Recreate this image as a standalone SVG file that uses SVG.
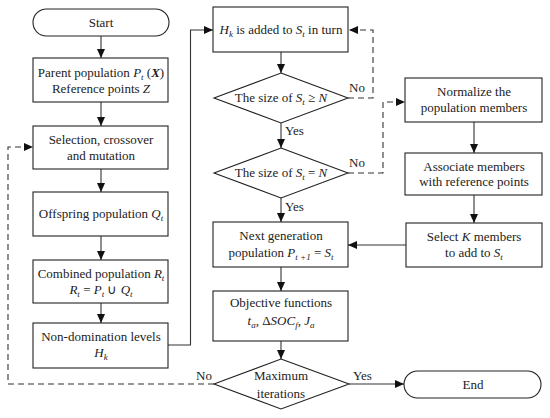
<svg xmlns="http://www.w3.org/2000/svg" width="550" height="418" viewBox="0 0 550 418">
<defs>
<style>
.n{fill:#fff;stroke:#222;stroke-width:1.1}
text{font-size:13px;fill:#222;text-anchor:middle}
.i{font-style:italic}
.s{font-size:9px;font-style:italic}
.c{fill:none;stroke:#333;stroke-width:1.1}
.d{fill:none;stroke:#333;stroke-width:1.1;stroke-dasharray:6,4}
.l{text-anchor:start}
</style>
<marker id="a" markerWidth="10" markerHeight="8" refX="9" refY="4" orient="auto" markerUnits="userSpaceOnUse">
<path d="M0,0 L9,4 L0,8 Z" fill="#111"/>
</marker>
</defs>
<rect width="550" height="418" fill="#fff"/>
<g id="connectors">
<path class="c" d="M101,36 V58" marker-end="url(#a)"/>
<path class="c" d="M101,102 V126" marker-end="url(#a)"/>
<path class="c" d="M101,169 V192" marker-end="url(#a)"/>
<path class="c" d="M101,236 V260" marker-end="url(#a)"/>
<path class="c" d="M101,303 V323" marker-end="url(#a)"/>
<path class="c" d="M168,345 H190.5 V30 H213" marker-end="url(#a)"/>
<path class="c" d="M281,52 V73" marker-end="url(#a)"/>
<path class="c" d="M281,123 V148" marker-end="url(#a)"/>
<path class="c" d="M281,198 V222" marker-end="url(#a)"/>
<path class="c" d="M281,267 V291" marker-end="url(#a)"/>
<path class="c" d="M281,341 V359" marker-end="url(#a)"/>
<path class="c" d="M349,384 H404" marker-end="url(#a)"/>
<path class="c" d="M474,122 V153" marker-end="url(#a)"/>
<path class="c" d="M474,195 V223" marker-end="url(#a)"/>
<path class="c" d="M406,245 H348" marker-end="url(#a)"/>
<path class="d" d="M348,98 H373 V30 H349" marker-end="url(#a)"/>
<path class="d" d="M348,173 H383 V102 H405" marker-end="url(#a)"/>
<path class="d" d="M214,384 H8 V147 H33" marker-end="url(#a)"/>
</g>
<g font-family="Liberation Serif, serif">
<g id="start"><rect class="n" x="33" y="9" width="136" height="27" rx="13.5"/><text x="101" y="27">Start</text></g>
<g id="parent"><rect class="n" x="33" y="58" width="135" height="44"/>
<text x="101" y="77">Parent population <tspan class="i">P</tspan><tspan class="s" dy="3">t</tspan><tspan dy="-3"> (</tspan><tspan class="i" font-weight="bold">X</tspan>)</text>
<text x="101" y="93">Reference points <tspan class="i">Z</tspan></text></g>
<g id="selection"><rect class="n" x="33" y="126" width="135" height="43"/>
<text x="101" y="144">Selection, crossover</text><text x="101" y="160">and mutation</text></g>
<g id="offspring"><rect class="n" x="33" y="192" width="135" height="44"/>
<text x="101" y="218">Offspring population <tspan class="i">Q</tspan><tspan class="s" dy="3">t</tspan></text></g>
<g id="combined"><rect class="n" x="33" y="260" width="135" height="43"/>
<text x="101" y="278">Combined population <tspan class="i">R</tspan><tspan class="s" dy="3">t</tspan></text>
<text x="101" y="294"><tspan class="i">R</tspan><tspan class="s" dy="3">t</tspan><tspan dy="-3"> = </tspan><tspan class="i">P</tspan><tspan class="s" dy="3">t</tspan><tspan dy="-3"> ∪ </tspan><tspan class="i">Q</tspan><tspan class="s" dy="3">t</tspan></text></g>
<g id="nondom"><rect class="n" x="33" y="323" width="135" height="45"/>
<text x="101" y="341">Non-domination levels</text>
<text x="101" y="357"><tspan class="i">H</tspan><tspan class="s" dy="3">k</tspan></text></g>
<g id="hk"><rect class="n" x="213" y="7" width="135" height="45"/>
<text x="281" y="34"><tspan class="i">H</tspan><tspan class="s" dy="3">k</tspan><tspan dy="-3"> is added to </tspan><tspan class="i">S</tspan><tspan class="s" dy="3">t</tspan><tspan dy="-3"> in turn</tspan></text></g>
<g id="dec1"><polygon class="n" points="281,73 348,98 281,123 214,98"/>
<text x="281" y="102">The size of <tspan class="i">S</tspan><tspan class="s" dy="3">t</tspan><tspan dy="-3"> ≥ </tspan><tspan class="i">N</tspan></text>
<text class="l" x="349" y="92">No</text><text class="l" x="285" y="135">Yes</text></g>
<g id="dec2"><polygon class="n" points="281,148 348,173 281,198 214,173"/>
<text x="281" y="177">The size of <tspan class="i">S</tspan><tspan class="s" dy="3">t</tspan><tspan dy="-3"> = </tspan><tspan class="i">N</tspan></text>
<text class="l" x="349" y="167">No</text><text class="l" x="285" y="211">Yes</text></g>
<g id="nextgen"><rect class="n" x="213" y="222" width="135" height="45"/>
<text x="281" y="240">Next generation</text>
<text x="281" y="257">population <tspan class="i">P</tspan><tspan class="s" dy="3">t +1</tspan><tspan dy="-3"> = </tspan><tspan class="i">S</tspan><tspan class="s" dy="3">t</tspan></text></g>
<g id="objective"><rect class="n" x="213" y="291" width="135" height="50"/>
<text x="281" y="307">Objective functions</text>
<text x="281" y="325"><tspan class="i">t</tspan><tspan class="s" dy="3">a</tspan><tspan dy="-3">, Δ</tspan><tspan class="i">SOC</tspan><tspan class="s" dy="3">f</tspan><tspan dy="-3">, </tspan><tspan class="i">J</tspan><tspan class="s" dy="3">a</tspan></text></g>
<g id="maxiter"><polygon class="n" points="281,359 349,384 281,409 214,384"/>
<text x="281" y="380">Maximum</text><text x="281" y="398">iterations</text>
<text class="l" x="196" y="380">No</text><text class="l" x="353" y="380">Yes</text></g>
<g id="normalize"><rect class="n" x="405" y="78" width="137" height="44"/>
<text x="474" y="96">Normalize the</text><text x="474" y="112">population members</text></g>
<g id="associate"><rect class="n" x="405" y="153" width="137" height="42"/>
<text x="474" y="171">Associate members</text><text x="474" y="186">with reference points</text></g>
<g id="select"><rect class="n" x="406" y="223" width="136" height="44"/>
<text x="474" y="241">Select <tspan class="i">K</tspan> members</text>
<text x="474" y="257">to add to <tspan class="i">S</tspan><tspan class="s" dy="3">t</tspan></text></g>
<g id="end"><rect class="n" x="404" y="371" width="137" height="27" rx="13.5"/><text x="473" y="389">End</text></g>
</g>
</svg>
